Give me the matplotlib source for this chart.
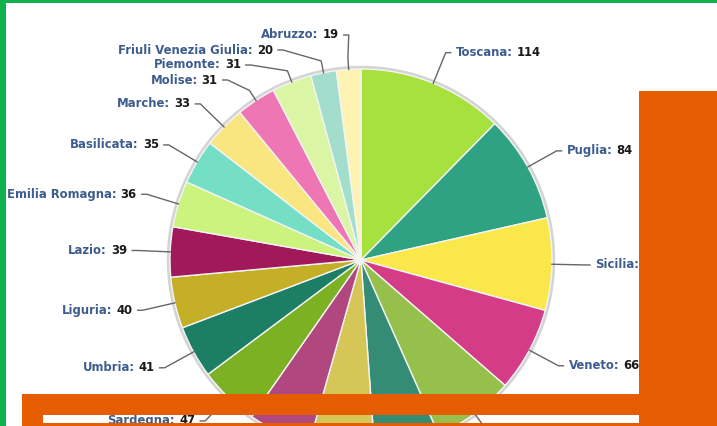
import numpy as np
import matplotlib
matplotlib.use('Agg')
import matplotlib.pyplot as plt
from matplotlib.patches import Rectangle, Circle
from matplotlib.offsetbox import TextArea, HPacker, AnnotationBbox

W, H = 717, 426

# slices, clockwise from 12 o'clock (the ones under the orange boxes are estimates)
regions = ['Toscana', 'Puglia', 'Sicilia', 'Veneto', 'Lombardia', 'Campania',
           'Calabria', 'Trentino Alto Adige', 'Sardegna', 'Umbria', 'Liguria',
           'Lazio', 'Emilia Romagna', 'Basilicata', 'Marche', 'Molise',
           'Piemonte', 'Friuli Venezia Giulia', 'Abruzzo']
counts = [114, 84, 72, 66, 64, 51, 51, 49, 47, 41, 40, 39, 36, 35, 33, 31, 31, 20, 19]
colors = ['#a6e13e', '#2fa283', '#fae84b', '#d53c87', '#94c04b', '#348c75',
          '#d6c557', '#b0477f', '#7db124', '#1b7e65', '#c4af27', '#a1195b',
          '#cbf37d', '#74dfc5', '#fae680', '#ee76b4', '#daf6a5', '#a3decd',
          '#fdf4b3']

name_col = '#3d5d8f'
val_col = '#1a1a1a'
line_col = '#666666'
green = '#10b04e'
orange = '#e65c00'

cx, cy, r = 361, 260, 191    # pie centre and radius, screen pixels (y down)
dist = 33                    # label distance outside the pie
gap = 15                     # min vertical spacing between labels
ytop = 35                    # labels can't go above this
fs = 8.4

fig = plt.figure(figsize=(W / 100, H / 100), dpi=100)
ax = fig.add_axes([0, 0, 1, 1])

# soft grey rim like the highcharts shadow
ax.add_patch(Circle((cx, H - cy), r + 2.5, color='#d4d4d4', zorder=1))
ax.pie(counts, colors=colors, center=(cx, H - cy), radius=r, startangle=90,
       counterclock=False, frame=False,
       wedgeprops=dict(edgecolor='#f4f4f4', linewidth=1, zorder=2))

vals = np.array(counts, float)
span = vals / vals.sum() * 360
mids = np.cumsum(span) - span / 2
th = np.radians(mids)
R = r + dist
left = mids > 180
ny = cy - R * np.cos(th)
ly = ny.copy()


def spread(idx):
    groups = []
    for i in sorted(idx, key=lambda k: ny[k]):
        groups.append([[i], max(ny[i], ytop)])
        while len(groups) > 1 and groups[-2][1] + gap * len(groups[-2][0]) > groups[-1][1]:
            g = groups.pop()
            groups[-1][0] += g[0]
            m = groups[-1][0]
            groups[-1][1] = max(np.mean(ny[m]) - gap * (len(m) - 1) / 2, ytop)
    for m, s in groups:
        for k, i in enumerate(m):
            ly[i] = s + k * gap


spread([i for i in range(len(counts)) if left[i]])
spread([i for i in range(len(counts)) if not left[i]])

for i in range(len(counts)):
    sgn = -1 if left[i] else 1
    q = min(((ly[i] - cy) / R) ** 2, 0.997)
    lx = cx + sgn * R * np.sqrt(1 - q)
    ex, ey = cx + r * np.sin(th[i]), cy - r * np.cos(th[i])
    bx, by = cx + (r + 12) * np.sin(th[i]), cy - (r + 12) * np.cos(th[i])
    xs = [ex, bx, lx, lx + sgn * 5]
    ys = [ey, by, ly[i], ly[i]]
    ax.plot(xs, H - np.array(ys), color=line_col, lw=1, zorder=4)

    # labels of the bottom slices fall below the screenshot, nothing to draw
    if ly[i] > H:
        continue
    box = HPacker(children=[
        TextArea(regions[i] + ':', textprops=dict(color=name_col, weight='bold', size=fs)),
        TextArea(str(counts[i]), textprops=dict(color=val_col, weight='bold', size=fs))],
        pad=0, sep=3)
    ab = AnnotationBbox(box, (lx + sgn * 10, H - ly[i]),
                        box_alignment=(1 if left[i] else 0, 0.5),
                        frameon=False, pad=0, zorder=5)
    ax.add_artist(ab)

# boxes laid over the screenshot
ax.add_patch(Rectangle((0, 0), 6, H, color=green, zorder=10, lw=0))
ax.add_patch(Rectangle((0, H - 3), W, 3, color=green, zorder=10, lw=0))
ax.add_patch(Rectangle((639, 0), W - 639, H - 91, color=orange, zorder=10, lw=0))
ax.add_patch(Rectangle((22, H - 415), 639 - 22, 21, color=orange, zorder=10, lw=0))
ax.add_patch(Rectangle((22, 0), 21, H - 415, color=orange, zorder=10, lw=0))
ax.add_patch(Rectangle((43, 0), 639 - 43, H - 423, color=orange, zorder=10, lw=0))

ax.set_xlim(0, W)
ax.set_ylim(0, H)
ax.set_aspect('auto')
ax.axis('off')

fig.savefig('out.png', dpi=100)
